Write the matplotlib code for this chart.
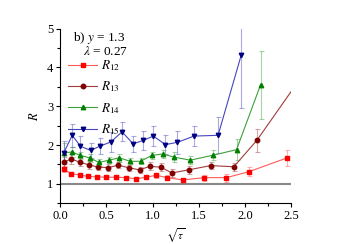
import matplotlib.pyplot as plt
import numpy as np

plt.rcParams['font.family'] = 'Liberation Serif'
plt.rcParams['mathtext.fontset'] = 'stix'
plt.rcParams['font.size'] = 9

# R12
x12 = [0.04, 0.12, 0.21, 0.30, 0.40, 0.50, 0.60, 0.71, 0.82, 0.93, 1.04, 1.16, 1.33, 1.56, 1.80, 2.04, 2.46]
y12 = [1.38, 1.26, 1.23, 1.19, 1.18, 1.17, 1.17, 1.16, 1.13, 1.17, 1.22, 1.16, 1.10, 1.16, 1.16, 1.31, 1.67]
e12 = [0.07, 0.05, 0.05, 0.05, 0.05, 0.05, 0.05, 0.05, 0.05, 0.05, 0.06, 0.07, 0.06, 0.08, 0.10, 0.12, 0.20]

# R13
x13 = [0.04, 0.12, 0.21, 0.31, 0.41, 0.52, 0.63, 0.75, 0.86, 0.97, 1.09, 1.21, 1.39, 1.63, 1.88, 2.13, 2.62]
y13 = [1.56, 1.64, 1.56, 1.49, 1.43, 1.42, 1.48, 1.41, 1.36, 1.45, 1.43, 1.28, 1.36, 1.47, 1.44, 2.12, 3.78]
e13 = [0.12, 0.12, 0.10, 0.10, 0.08, 0.08, 0.08, 0.08, 0.08, 0.10, 0.10, 0.10, 0.10, 0.10, 0.10, 0.30, 0.50]

# R14
x14 = [0.04, 0.13, 0.22, 0.32, 0.42, 0.53, 0.64, 0.76, 0.87, 0.99, 1.11, 1.23, 1.41, 1.66, 1.91, 2.17]
y14 = [1.80, 1.82, 1.73, 1.67, 1.55, 1.61, 1.67, 1.58, 1.58, 1.73, 1.77, 1.69, 1.61, 1.74, 1.88, 3.55]
e14 = [0.25, 0.12, 0.10, 0.10, 0.08, 0.08, 0.10, 0.08, 0.08, 0.10, 0.10, 0.12, 0.10, 0.12, 0.27, 0.87]

# R15
x15 = [0.04, 0.13, 0.22, 0.33, 0.43, 0.55, 0.67, 0.79, 0.90, 1.01, 1.14, 1.27, 1.45, 1.71, 1.96]
y15 = [1.80, 2.25, 1.97, 1.86, 1.97, 2.08, 2.34, 2.03, 2.12, 2.23, 2.01, 2.07, 2.23, 2.25, 4.31]
e15 = [0.30, 0.30, 0.25, 0.20, 0.20, 0.25, 0.24, 0.20, 0.25, 0.25, 0.25, 0.30, 0.25, 0.46, 1.36]

series = [
    (x12, y12, e12, 's', '#ff0000', '#ff5a5a', '$R_{12}$'),
    (x13, y13, e13, 'o', '#800000', '#a03c3c', '$R_{13}$'),
    (x14, y14, e14, '^', '#008000', '#3ca03c', '$R_{14}$'),
    (x15, y15, e15, 'v', '#000080', '#4646c0', '$R_{15}$'),
]

fig = plt.figure(figsize=(3.38, 2.44), dpi=100)
ax = fig.add_axes([0.178, 0.167, 0.683, 0.716])

ax.axhline(1, color='#888888', lw=1.5, zorder=1)

handles = []
for x, y, e, m, mc, lc, lab in series:
    ax.errorbar(x, y, yerr=e, fmt='none', ecolor=lc, alpha=0.45, elinewidth=0.8,
                capsize=1.8, capthick=0.8, zorder=2)
    h, = ax.plot(x, y, color=lc, lw=0.8, marker=m, ms=3.2, mfc=mc, mec=mc, label=lab, zorder=3)
    handles.append(h)

ax.set_xlim(0, 2.5)
ax.set_ylim(0.5, 5)
ax.set_xticks(np.arange(0, 2.51, 0.5))
ax.set_xticks(np.arange(0, 2.51, 0.25), minor=True)
ax.set_yticks([1, 2, 3, 4, 5])
ax.set_yticks(np.arange(0.5, 5.01, 0.5), minor=True)
ax.tick_params(direction='out', length=3, width=0.8, labelsize=9, pad=2)
ax.tick_params(which='minor', direction='out', length=2, width=0.8)
ax.spines['top'].set_visible(False)
ax.spines['right'].set_visible(False)
ax.xaxis.set_major_formatter(plt.FuncFormatter(lambda v, p: f'{v:.1f}'))

ax.set_xlabel(r'$\sqrt{\tau}$', fontsize=8, labelpad=3)
ax.set_ylabel('$R$', fontsize=9, labelpad=4)

ax.text(0.055, 0.99, 'b) $y$ = 1.3', transform=ax.transAxes, fontsize=9.5, va='top')
ax.text(0.1, 0.905, r'$\lambda$ = 0.27', transform=ax.transAxes, fontsize=9.5, va='top')
ax.legend(handles=handles, loc='upper left', bbox_to_anchor=(0.035, 0.83), frameon=False,
          fontsize=9.5, handlelength=2.2, labelspacing=0.5, handletextpad=0.3,
          borderpad=0, borderaxespad=0)

fig.savefig('out.png', dpi=100)
